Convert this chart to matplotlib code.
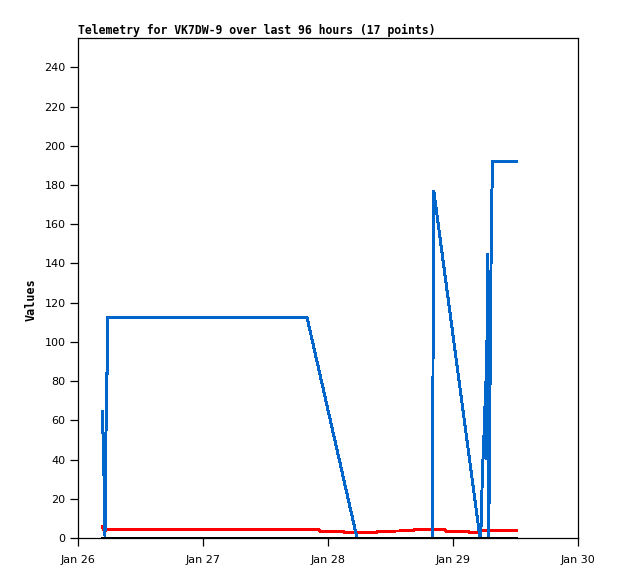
import matplotlib
matplotlib.use("Agg")
import matplotlib.pyplot as plt
import matplotlib.dates as mdates
import numpy as np

# hours since Jan 26 00:00
blue_hours = [4.67, 4.72, 4.92, 4.97, 5.07, 5.18, 5.49, 5.64, 5.74, 43.97, 53.57,
              68.08, 68.16, 68.31, 77.18, 77.43, 77.63, 77.86, 78.05, 78.30, 78.43,
              78.59, 78.80, 78.97, 79.09, 79.24, 79.39, 79.62, 84.25]
blue_values = [64.5, 54, 53, 32, 30, 1, 84, 84, 112.5, 112.5, 0,
               0, 88, 177, 0, 7, 33, 46, 60, 80, 40,
               145, 0, 25, 72, 120, 168, 192, 192]

red_hours = [4.67, 4.90, 5.09, 5.38, 46.27, 46.46, 51.07, 51.26, 57.22, 57.41,
             64.32, 64.51, 70.46, 70.66, 74.88, 75.07, 77.18, 77.38, 84.25]
red_values = [6, 4, 3.7, 4.1, 4.1, 3.4, 3.4, 2.7, 2.7, 3.4,
              3.7, 4.1, 4.1, 3.4, 3.4, 3.0, 3.0, 3.7, 3.7]

black_hours = [4.67, 84.25]
black_values = [0, 0]

title = "Telemetry for VK7DW-9 over last 96 hours (17 points)"
y_label = "Values"
y_ticks = list(range(0, 241, 20))

base = np.datetime64("2024-01-26T00:00")
def to_dt(hours):
    return base + (np.array(hours) * 3600).astype("timedelta64[s]")

fig = plt.figure(figsize=(6.18, 5.79), dpi=100)
ax = fig.add_axes([78/618, 41/579, 500/618, 500/579])

lw = 1.4
ax.plot(to_dt(red_hours), red_values, color="#ff0000", lw=lw, antialiased=False, solid_joinstyle="miter")
ax.plot(to_dt(blue_hours), blue_values, color="#0066cc", lw=lw, antialiased=False, solid_joinstyle="miter")
ax.plot(to_dt(black_hours), black_values, color="#000000", lw=lw, antialiased=False)

ax.set_xlim(base, base + np.timedelta64(4, "D"))
ax.set_ylim(0, 255)
ax.set_yticks(y_ticks)
ax.xaxis.set_major_locator(mdates.DayLocator())
ax.xaxis.set_major_formatter(mdates.DateFormatter("%b %d"))

for s in ax.spines.values():
    s.set_linewidth(0.9)
    s.set_color("black")
ax.tick_params(direction="out", length=6, width=0.9, labelsize=8, colors="black", pad=3)
ax.tick_params(axis="x", pad=6)

ax.set_title(title, loc="left", fontsize=8.3, fontweight="bold", family="DejaVu Sans Mono", pad=3)
ax.set_ylabel(y_label, fontsize=8.5, fontweight="bold", family="DejaVu Sans Mono")
ax.yaxis.set_label_coords(-0.08, 0.476)

fig.savefig("out.png", dpi=100)
